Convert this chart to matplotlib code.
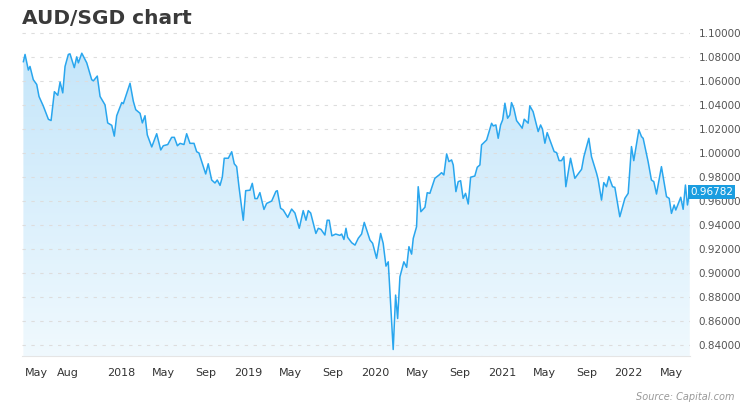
import matplotlib
matplotlib.use("Agg")
import matplotlib.pyplot as plt
import numpy as np
from matplotlib.patches import Polygon

# decimal-year dates and AUD/SGD rates
dates = [2017.231,2017.244,2017.270,2017.283,2017.309,2017.336,2017.354,2017.388,2017.428,2017.449,
2017.475,2017.502,2017.520,2017.541,2017.559,2017.585,2017.598,2017.632,2017.651,2017.664,2017.691,
2017.730,2017.769,2017.782,2017.813,2017.835,2017.874,2017.895,2017.927,2017.947,2017.966,2018.006,
2018.018,2018.071,2018.097,2018.116,2018.150,2018.168,2018.189,2018.207,2018.242,2018.281,2018.313,
2018.333,2018.368,2018.399,2018.420,2018.444,2018.465,2018.496,2018.517,2018.543,2018.575,2018.596,
2018.614,2018.667,2018.687,2018.714,2018.740,2018.758,2018.780,2018.798,2018.813,2018.845,2018.872,
2018.892,2018.911,2018.929,2018.963,2018.982,2019.016,2019.034,2019.055,2019.073,2019.094,2019.126,
2019.147,2019.187,2019.220,2019.231,2019.257,2019.278,2019.313,2019.344,2019.370,2019.404,2019.435,
2019.457,2019.475,2019.494,2019.535,2019.554,2019.575,2019.606,2019.624,2019.640,2019.661,2019.691,
2019.724,2019.738,2019.756,2019.772,2019.785,2019.817,2019.843,2019.869,2019.895,2019.916,2019.961,
2019.982,2020.013,2020.045,2020.065,2020.087,2020.105,2020.144,2020.163,2020.179,2020.197,2020.228,
2020.250,2020.268,2020.289,2020.302,2020.328,2020.341,2020.362,2020.394,2020.412,2020.433,2020.472,
2020.506,2020.525,2020.543,2020.565,2020.583,2020.604,2020.617,2020.638,2020.656,2020.675,2020.695,
2020.714,2020.735,2020.754,2020.787,2020.806,2020.827,2020.840,2020.866,2020.880,2020.919,2020.932,
2020.953,2020.971,2020.990,2021.006,2021.024,2021.045,2021.063,2021.076,2021.094,2021.116,2021.142,
2021.160,2021.176,2021.207,2021.220,2021.246,2021.286,2021.305,2021.320,2021.339,2021.357,2021.378,
2021.412,2021.431,2021.451,2021.470,2021.488,2021.504,2021.541,2021.575,2021.628,2021.646,2021.685,
2021.706,2021.746,2021.758,2021.785,2021.803,2021.824,2021.843,2021.872,2021.890,2021.929,2021.969,
2021.995,2022.021,2022.039,2022.079,2022.100,2022.113,2022.152,2022.178,2022.197,2022.218,2022.257,
2022.297,2022.318,2022.336,2022.357,2022.370,2022.409,2022.428,2022.446,2022.462,2022.480]
rates = [1.076,1.082,1.069,1.072,1.061,1.057,1.047,1.039,1.028,1.027,
1.051,1.048,1.059,1.050,1.072,1.082,1.0825,1.071,1.080,1.075,1.083,
1.075,1.061,1.060,1.064,1.047,1.040,1.025,1.023,1.014,1.031,1.042,
1.041,1.058,1.043,1.036,1.033,1.025,1.031,1.015,1.005,1.016,1.0025,
1.006,1.007,1.013,1.013,1.006,1.008,1.007,1.016,1.008,1.008,1.001,
1.000,0.9825,0.991,0.9775,0.975,0.9775,0.973,0.980,0.9956,0.9956,1.001,
0.991,0.9886,0.972,0.944,0.9686,0.969,0.9747,0.962,0.962,0.967,0.953,
0.958,0.960,0.968,0.9686,0.954,0.9525,0.9464,0.9533,0.950,0.9373,0.952,
0.944,0.952,0.950,0.933,0.9373,0.9364,0.9317,0.944,0.944,0.931,0.9325,
0.9314,0.9325,0.928,0.9373,0.9298,0.9253,0.9233,0.929,0.9325,0.9422,0.9275,
0.9248,0.9123,0.933,0.9248,0.9058,0.9094,0.8364,0.8817,0.8622,0.8969,0.9094,
0.9048,0.922,0.9158,0.9289,0.9386,0.9719,0.9511,0.9548,0.9669,0.9664,0.9789,
0.9817,0.9836,0.9817,0.9992,0.9928,0.9942,0.990,0.9678,0.9761,0.9769,0.9622,
0.9664,0.9575,0.9798,0.9808,0.9881,0.990,1.0067,1.0094,1.0108,1.0247,1.0225,
1.0233,1.0122,1.0233,1.0275,1.0414,1.0289,1.0317,1.0419,1.0372,1.0269,1.0233,
1.0206,1.0281,1.0248,1.0392,1.0344,1.0178,1.0233,1.0198,1.0081,1.0169,1.0108,
1.0011,1.0003,0.9936,0.9936,0.9969,0.9719,0.9956,0.9789,0.9864,0.9969,1.0122,
0.9969,0.9831,0.9781,0.9608,0.9753,0.9719,0.9803,0.9719,0.9714,0.9469,0.9622,
0.9664,1.0053,0.9936,1.0192,1.0136,1.0122,0.9928,0.9775,0.9761,0.9658,0.9886,
0.9636,0.9622,0.9497,0.9567,0.9525,0.9631,0.9531,0.9733,0.9567,0.9678]
last_label = "0.96782"
yticks = [0.84,0.86,0.88,0.90,0.92,0.94,0.96,0.98,1.00,1.02,1.04,1.06,1.08,1.10]
xtick_labels = ["May","Aug","2018","May","Sep","2019","May","Sep","2020","May","Sep","2021","May","Sep","2022","May"]
xtick_months = [(2017,5),(2017,8),(2018,1),(2018,5),(2018,9),(2019,1),(2019,5),(2019,9),(2020,1),(2020,5),
                (2020,9),(2021,1),(2021,5),(2021,9),(2022,1),(2022,5)]

fig = plt.figure(figsize=(7.5,4.13), dpi=100)
ax = fig.add_axes([22/750, 1-356/413, (690-22)/750, (356-28)/413])
ymin, ymax = 0.831, 1.104
xmin, xmax = 2017.22, 2022.482
ax.set_xlim(xmin, xmax); ax.set_ylim(ymin, ymax)

x = np.array(dates); y = np.array(rates)
grad = np.linspace(0, 1, 256).reshape(-1, 1)
from matplotlib.colors import LinearSegmentedColormap
cmap = LinearSegmentedColormap.from_list("g", ["#f0f9fe", "#c5e6fa"])
im = ax.imshow(grad, cmap=cmap, extent=[xmin, xmax, ymin, max(rates)], origin="lower",
               aspect="auto", zorder=1)
poly = Polygon(np.column_stack([np.r_[x[0], x, x[-1]], np.r_[ymin, y, ymin]]), closed=True,
               facecolor="none", edgecolor="none")
ax.add_patch(poly)
im.set_clip_path(poly)
ax.plot(x, y, color="#29a6ee", lw=1.1, zorder=3)

for t in yticks:
    ax.axhline(t, color="#dddddd", lw=0.8, ls=(0, (3, 5)), zorder=2)
ax.set_yticks(yticks)
ax.yaxis.tick_right()
ax.set_yticklabels([f"{t:.5f}" for t in yticks], fontsize=7.5, color="#555555")
ax.tick_params(axis="y", length=0, pad=6)
ax.set_xticks([yr + (m-1)/12 for yr, m in xtick_months])
ax.set_xticklabels(xtick_labels, fontsize=8, color="#333333")
ax.tick_params(axis="x", length=0, pad=9)
for s in ["top", "right", "left"]:
    ax.spines[s].set_visible(False)
ax.spines["bottom"].set_color("#e5e5e5")

ax.text(1.0, y[-1], last_label, transform=ax.get_yaxis_transform(), ha="left", va="center",
        fontsize=7.5, color="white", zorder=5,
        bbox=dict(boxstyle="square,pad=0.2", fc="#1a9de0", ec="none"))

fig.text(22/750, 1-18/413, "AUD/SGD chart", fontsize=14.5, fontweight="bold", color="#3a3a3a",
         va="center", ha="left")
fig.text(735/750, 1-397/413, "Source: Capital.com", fontsize=7, style="italic", color="#999999",
         ha="right", va="center")
fig.savefig("out.png", dpi=100)
